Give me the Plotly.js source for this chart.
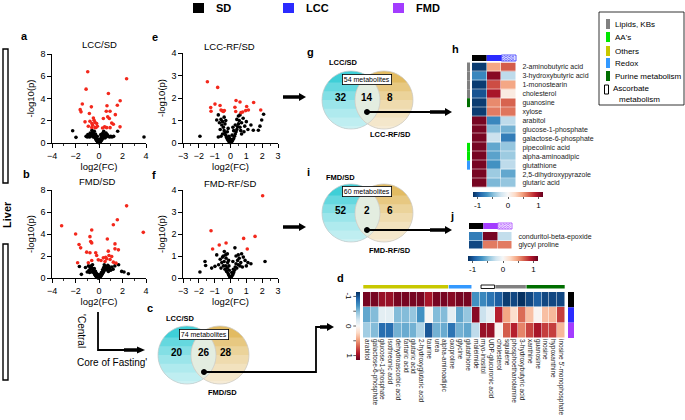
<!DOCTYPE html>
<html><head><meta charset="utf-8">
<script src="https://cdn.plot.ly/plotly-3.0.1.min.js"></script>
<style>html,body{margin:0;padding:0;background:#fff}#chart{width:685px;height:420px}</style>
</head><body><div id="chart"></div>
<script>
// ================= DATA =================
const groups = ['SD', 'LCC', 'FMD'];

// Volcano a: LCC/SD  [log2(FC), -log10(p)]
const lccSdSig = [[-0.96,6.4],[2.35,5.77],[-1.1,4.84],[0.8,4.45],[1.8,3.8],[-1.42,3.5],[1.56,3.4],[-0.65,3.25],[0.68,3.35],[-1.6,3.0],[-1.53,2.8],[0.62,2.85],[0.94,2.85],[-0.82,2.65],[1.39,2.55],[0.74,2.35],[0.88,2.2],[-0.48,2.25],[0.37,2.2],[-1.19,1.9],[-0.77,1.95],[-0.34,1.85],[-0.2,1.75],[1.08,1.8],[1.22,1.68],[-0.54,1.6],[-0.14,1.5],[0.48,1.45],[0.65,1.38],[1.79,1.45],[-0.91,1.5],[-0.62,1.4],[-0.34,1.38],[0.94,1.38],[-0.42,2.05],[-0.6,1.75],[0.3,1.35],[-0.25,1.4]];
const lccSdNs = [[-2.24,1.1],[-1.96,0.51],[1.59,1.05],[3.83,0.54],[-1.1,0.6],[-1.0,0.55],[-0.95,0.75],[-0.9,0.6],[-0.85,0.65],[-0.8,0.55],[-0.75,0.9],[-0.7,0.65],[-0.65,0.8],[-0.6,0.7],[-0.55,1.0],[-0.5,0.95],[-0.45,0.75],[-0.4,0.6],[-0.35,0.5],[-0.3,0.4],[-0.25,0.3],[-0.2,0.22],[-0.15,0.15],[-0.1,0.08],[-0.05,0.04],[0,0.02],[0.05,0.05],[0.1,0.1],[0.15,0.16],[0.2,0.24],[0.25,0.32],[0.3,0.42],[0.35,0.5],[0.4,0.62],[0.45,0.7],[0.5,0.8],[0.55,0.6],[0.6,0.9],[0.7,0.75],[0.8,0.6],[0.9,0.55],[1.0,0.6],[1.1,0.55],[1.25,0.6],[-0.6,1.15],[-0.5,0.55],[-0.4,1.05],[-0.3,0.8],[-0.2,0.5],[-0.1,0.3],[0.1,0.35],[0.2,0.55],[0.3,0.85],[0.4,1.05],[0.5,0.45],[0.6,0.55],[-0.75,0.6],[0.75,0.65],[0.0,0.2],[-0.05,0.12],[0.05,0.28],[-0.15,0.6],[0.15,0.75],[0.25,0.6],[-0.25,0.5]];

// Volcano e: LCC-RF/SD
const lccRfSig = [[-1.46,2.72],[-0.81,2.47],[-0.98,1.73],[-1.25,1.58],[-1.23,1.41],[-0.66,1.67],[-0.6,1.47],[-0.52,1.43],[-0.39,1.44],[-0.45,1.4],[0.35,1.89],[0.6,1.82],[0.28,1.59],[0.33,1.4],[0.66,1.35],[0.77,1.38],[1.02,1.62],[1.13,1.47],[0.96,1.44],[1.46,1.8],[1.91,1.47]];
const lccRfNs = [[-1.93,0.3],[1.76,0.57],[1.86,0.75],[1.97,1.02],[2.09,1.28],[1.44,0.57],[1.29,0.8],[-0.77,1.25],[-0.87,1.02],[-0.77,0.27],[-0.7,0.9],[-0.65,0.6],[-0.6,1.05],[-0.55,0.8],[-0.5,0.95],[-0.45,0.7],[-0.4,0.55],[-0.35,0.45],[-0.3,0.35],[-0.25,0.25],[-0.2,0.18],[-0.15,0.12],[-0.1,0.07],[-0.05,0.03],[0,0.01],[0.05,0.04],[0.1,0.08],[0.15,0.14],[0.2,0.2],[0.25,0.3],[0.3,0.4],[0.35,0.5],[0.4,0.6],[0.45,0.72],[0.5,0.85],[0.55,1.0],[0.6,0.7],[0.7,0.9],[0.8,1.1],[0.9,0.75],[1.0,0.95],[1.1,0.6],[0.85,0.5],[-0.35,0.85],[-0.3,1.0],[-0.2,0.5],[-0.1,0.3],[0.1,0.35],[0.2,0.55],[0.3,0.8],[0.4,1.05],[0.5,1.2],[0.6,1.25],[-0.5,0.4],[-0.6,0.3],[0.7,0.4],[-0.15,0.65],[0.15,0.7],[-0.05,0.2],[0.05,0.15],[0.65,0.55],[-0.4,1.15]];

// Volcano b: FMD/SD
const fmdSdSig = [[-3.18,4.75],[2.35,6.56],[3.77,4.15],[1.56,5.29],[1.22,4.84],[-1.99,4.0],[-0.62,4.36],[-0.77,3.76],[-0.71,3.31],[-0.62,3.19],[-1.7,3.04],[-1.56,2.74],[0.71,3.55],[1.36,3.1],[1.36,2.65],[1.65,2.56],[-1.05,2.35],[-0.77,2.29],[-0.28,2.29],[-0.2,2.05],[-1.82,1.38],[0.79,2.44],[0.85,2.05],[0.57,1.89],[1.08,1.95],[0.37,1.83],[0.65,1.74],[0.94,1.68],[-0.06,1.65],[0.51,1.5],[1.22,1.44],[1.45,1.35],[0.17,1.59],[-0.62,1.59],[-0.91,1.38]];
const fmdSdNs = [[-1.67,1.05],[-1.5,0.33],[1.93,0.6],[2.13,0.54],[2.5,0.39],[1.67,1.2],[-1.15,0.95],[-1.0,0.55],[-0.9,1.1],[-0.85,0.7],[-0.8,0.5],[-0.75,0.95],[-0.7,0.8],[-0.65,1.1],[-0.6,0.55],[-0.55,0.85],[-0.5,0.65],[-0.45,0.5],[-0.4,0.4],[-0.35,0.3],[-0.3,0.22],[-0.25,0.15],[-0.2,0.1],[-0.15,0.06],[-0.1,0.03],[-0.05,0.01],[0,0.02],[0.05,0.05],[0.1,0.1],[0.15,0.16],[0.2,0.24],[0.25,0.33],[0.3,0.42],[0.35,0.5],[0.4,0.6],[0.45,0.7],[0.5,0.8],[0.55,0.95],[0.6,1.05],[0.65,0.75],[0.7,0.9],[0.75,1.15],[0.8,0.6],[0.9,0.85],[1.0,0.7],[1.1,1.0],[1.2,0.8],[1.35,1.1],[-0.3,0.6],[-0.2,0.4],[-0.1,0.25],[0.1,0.3],[0.2,0.5],[0.3,0.75],[0.4,0.95],[0.45,1.2],[-0.4,0.85],[-0.55,1.2],[0.85,1.05],[0.0,0.15],[-0.05,0.3],[0.05,0.25]];

// Volcano f: FMD-RF/SD
const fmdRfSig = [[2.03,3.74],[-1.23,2.15],[1.55,1.89],[0.83,1.8],[-0.28,1.59],[-0.71,1.5],[-1.13,1.32],[1.06,1.32]];
const fmdRfNs = [[-1.93,0.27],[-1.61,0.75],[-1.57,0.57],[-1.19,0.45],[-0.98,0.53],[-0.87,1.05],[-0.39,1.2],[0.28,1.37],[0.49,1.05],[0.81,0.95],[0.92,0.8],[1.29,0.65],[2.18,0.75],[-0.75,0.6],[-0.65,0.85],[-0.6,0.45],[-0.55,0.7],[-0.5,0.95],[-0.45,0.55],[-0.4,0.75],[-0.35,0.4],[-0.3,0.55],[-0.28,0.9],[-0.25,0.3],[-0.2,0.45],[-0.18,0.7],[-0.15,0.2],[-0.1,0.12],[-0.08,0.35],[-0.05,0.06],[0,0.02],[0.05,0.05],[0.08,0.25],[0.1,0.1],[0.15,0.16],[0.18,0.4],[0.2,0.25],[0.25,0.35],[0.3,0.5],[0.35,0.65],[0.4,0.45],[0.45,0.8],[0.5,0.6],[0.55,0.9],[0.6,0.55],[0.65,0.7],[0.7,1.1],[0.75,0.5],[1.0,0.55],[1.1,0.7],[-0.3,1.05],[-0.45,1.0],[-0.2,1.1],[0.35,1.0],[0.15,0.75],[-0.1,0.55],[-0.12,0.8]];

// Venn counts
const vennC = {left:'LCC/SD', right:'FMD/SD', total:74, counts:[20,26,28]};
const vennG = {left:'LCC/SD', right:'LCC-RF/SD', total:54, counts:[32,14,8]};
const vennI = {left:'FMD/SD', right:'FMD-RF/SD', total:60, counts:[52,2,6]};

// Heatmap h (rows) : SD, LCC, LCC-RF
const hRows = ['2-aminobutyric acid','3-hydroxybutyric acid','1-monostearin','cholesterol','guanosine','xylose','arabitol','glucose-1-phosphate','galactose-6-phosphate','pipecolinic acid','alpha-aminoadipic','glutathione','2,5-dihydroxypyrazole','glutaric acid'];
const hSD  = [-1.1,-0.75,-1.1,-1.0,-1.1,-1.1,1.1,1.1,1.1,1.1,1.1,1.1,1.1,1.1];
const hLCC = [0.45,1.05,0.75,0.95,0.55,0.6,-0.75,-0.5,-0.25,-0.6,-0.62,-0.7,-0.42,-0.52];
const hLCCRF = [0.7,-0.3,0.45,0.1,0.68,0.62,-0.3,-0.55,-0.8,-0.45,-0.42,-0.3,-0.6,-0.45];
const hCategory = ['Lipids','Lipids','Lipids','Lipids','Purine','','','','','AA','AA','Redox','',''];

// Heatmap j : SD, FMD, FMD-RF
const jRows = ['conduritol-beta-epoxide','glycyl proline'];
const jSD = [-0.8,-1.05];
const jFMD = [1.1,0.6];
const jFMDRF = [-0.28,0.6];

// Heatmap d (columns): SD, LCC, FMD
const dCols = ['arabitol','galactose-6-phosphate','glucose-1-phosphate','isothreonic acid','dehydroascorbic acid','tartaric acid','glutaric acid','2-hydroxyglutaric acid','taurine','urea','alpha-aminoadipic','oxoproline','glycine','glutathione','maleimide','myo-inositol','UDP-glucuronic acid','cholesterol','squalene','phosphoethanolamine','3-hydroxybutyric acid','xanthine','guanosine','inosine','hypoxanthine',"inosine 5'-monophosphate"];
const dSD  = [1.1,1.1,1.0,1.0,1.1,1.1,1.1,1.1,0.95,1.1,1.1,1.05,1.1,1.1,-0.7,-0.75,-0.85,-0.95,-1.1,-1.05,-1.15,-1.05,-0.95,-1.05,-1.05,-1.05];
const dLCC = [-0.6,-0.5,-0.12,-0.12,-0.5,-0.5,-0.45,-0.7,0.02,-0.5,-0.5,-0.12,-0.6,-0.45,1.05,-0.25,-0.1,0.9,0.45,0.2,0.65,0.35,0.03,0.35,0.38,0.8];
const dFMD = [-0.4,-0.5,-0.88,-0.88,-0.55,-0.58,-0.55,-0.35,-0.98,-0.55,-0.58,-0.85,-0.55,-0.6,-0.3,1.0,1.0,0.03,0.7,0.9,0.57,0.78,0.95,0.8,0.8,0.38];
const dCategory = ['Others','Others','Others','Others','Others','Others','Others','Others','Others','Others','Others','Redox','Redox','Redox','','Ascorbate','Ascorbate','Lipids','Lipids','Lipids','Lipids','Purine','Purine','Purine','Purine','Purine'];

// Category legend
const catNames = ['Lipids, KBs',"AA's",'Others','Redox','Purine metabolism','Ascorbate metabolism'];

// ================= STYLE / LAYOUT =================
const W = 685, H = 420;
const FONT = 'Liberation Sans, Arial, Helvetica, sans-serif';
const X = p => p / W, Y = p => 1 - p / H;
const RED = '#f3281c';
const groupColor = {SD:'#000000', LCC:'#2b2bff', FMD:'#a33cff'};
const catColor = {Lipids:'#808080', AA:'#00e600', Others:'#c8c800', Redox:'#3399ff', Purine:'#006e00'};
const rdbu = ['#053061','#2166ac','#4393c3','#92c5de','#d1e5f0','#f7f7f7','#fddbc7','#f4a582','#d6604d','#b2182b','#67001f'];
const cs = rdbu.map((c,i)=>[i/10,c]);
const csRev = rdbu.slice().reverse().map((c,i)=>[i/10,c]);
const ZM = 1.15;

const shapes = [], ann = [];
function T(text, x, y, o = {}) {
  ann.push(Object.assign({text, x:X(x), y:Y(y), xref:'paper', yref:'paper', showarrow:false,
    font:{family:FONT, size:o.size||9, color:o.color||'#000'},
    xanchor:o.xa||'center', yanchor:o.ya||'middle'}, o.extra||{}));
}
function rect(x0,y0,x1,y1,fill,lc,lw){ shapes.push({type:'rect',xref:'paper',yref:'paper',x0:X(x0),x1:X(x1),y0:Y(y1),y1:Y(y0),fillcolor:fill||'rgba(0,0,0,0)',line:{color:lc||'rgba(0,0,0,0)',width:lw||0}}); }
function line(x0,y0,x1,y1,w,c){ shapes.push({type:'line',xref:'paper',yref:'paper',x0:X(x0),y0:Y(y0),x1:X(x1),y1:Y(y1),line:{color:c||'#000',width:w}}); }
function pathStr(pts, close){ return 'M' + pts.map(p=>X(p[0]).toFixed(5)+','+Y(p[1]).toFixed(5)).join('L') + (close?'Z':''); }
function poly(pts, fill, op, lc, lw){ shapes.push({type:'path',xref:'paper',yref:'paper',path:pathStr(pts,true),fillcolor:fill,opacity:op==null?1:op,line:{color:lc||'rgba(0,0,0,0)',width:lw||0}}); }
function polyline(pts, c, w){ shapes.push({type:'path',xref:'paper',yref:'paper',path:pathStr(pts,false),line:{color:c,width:w}}); }
function arc(cx,cy,r,t0,t1,n){ const p=[]; for(let i=0;i<=n;i++){const t=t0+(t1-t0)*i/n; p.push([cx+r*Math.cos(t), cy+r*Math.sin(t)]);} return p; }
function headR(xTip,y,len,hw){ poly([[xTip-len,y-hw/2],[xTip,y],[xTip-len,y+hw/2]],'#000'); }
function dot(cx,cy,r){ poly(arc(cx,cy,r,0,2*Math.PI,16),'#000'); }

// ---- Venn diagrams ----
function gradientCircle(cx,cy,r,base){
  poly(arc(cx,cy,r,0,2*Math.PI,64), base);
  for (let k=0;k<6;k++){
    const s = -0.6 + k*0.3;
    const t0 = Math.asin(Math.max(-1,Math.min(1,s)));
    poly(arc(cx,cy,r,t0,Math.PI-t0,40),'#ffffff',0.2);
  }
}
function venn(v, cx1, cx2, cy, r, lab, labPos){
  gradientCircle(cx1,cy,r,'#3fcfd7');
  gradientCircle(cx2,cy,r,'#e2bb62');
  const a = (cx2-cx1)/2, phi = Math.acos(a/r);
  const lens = arc(cx1,cy,r,-phi,phi,30).concat(arc(cx2,cy,r,Math.PI-phi,Math.PI+phi,30));
  poly(lens,'#e3ede0');
  poly(arc(cx1,cy,r,0,2*Math.PI,64),'rgba(0,0,0,0)',1,'#c9c9c9',0.7);
  poly(arc(cx2,cy,r,0,2*Math.PI,64),'rgba(0,0,0,0)',1,'#c9c9c9',0.7);
  const mx=(cx1+cx2)/2;
  const ny = cy - 3;
  T('<b>'+v.counts[0]+'</b>', cx1-10, ny, {size:10});
  T('<b>'+v.counts[1]+'</b>', mx, ny, {size:10});
  T('<b>'+v.counts[2]+'</b>', cx2+6, ny, {size:10});
  T(v.total+' metabolites', mx, cy-r+8, {size:7, extra:{bgcolor:'#fff', bordercolor:'#000', borderwidth:0.8, borderpad:1}});
  T('<b>'+v.left+'</b>', labPos[0][0], labPos[0][1], {size:7.5});
  T('<b>'+v.right+'</b>', labPos[1][0], labPos[1][1], {size:7.5});
}
venn(vennG, 351, 384, 100, 29, 'g', [[343,62],[390,134]]);
venn(vennI, 351, 384, 213, 29, 'i', [[340,177],[390,250]]);
venn(vennC, 187, 220, 355, 29, 'c', [[180,318],[222,392]]);

// ---- arrows ----
function boldArrow(x0,x1,y){ line(x0,y,x1-6,y,3.5); headR(x1,y,7,8); }
boldArrow(283,306,97);
boldArrow(283,306,227);
function dotArrow(x0,x1,y){ dot(x0,y,3); line(x0,y,x1-20,y,1.8); line(x1-22,y,x1-6,y,3.5); headR(x1,y,7,8); }
dotArrow(367,452,112);
dotArrow(367,452,230);
// c -> d
dot(204,372,3);
polyline([[204,372],[316,372],[316,327],[322,327]],'#000',1.8);
line(320,327,327,327,3.5); headR(334,327,7,8);
// Central core L-arrow
polyline([[98,312],[98,350],[126,350]],'#000',1.8);
line(124,350,137,350,3.5); headR(145,350,8,7);

// ---- Liver bracket ----
rect(3,49,8,183,null,'#000',1.4);
rect(3,244,8,380,null,'#000',1.4);
T('<b>Liver</b>', 7, 215, {size:11, extra:{textangle:-90}});
T("'Central", 82, 331, {size:10, extra:{textangle:90}});
T("Core of Fasting'", 112, 362, {size:10});

// ---- top group legend ----
const topLeg = [[193,'SD'],[283,'LCC'],[393,'FMD']];
topLeg.forEach(([x,g])=>{ rect(x,3,x+11,13,groupColor[g]); T('<b>'+g+'</b>', x+21, 8, {size:11, xa:'left'}); });

// ---- category legend box ----
rect(599,12,684,105,'#fff','#000',0.8);
const legKeys = ['Lipids','AA','Others','Redox','Purine'];
const legY = [24,37,51,63,76];
legKeys.forEach((k,i)=>{ rect(606,legY[i]-5,610,legY[i]+5,catColor[k]); T(catNames[i],613,legY[i],{size:8,xa:'left'}); });
rect(604.5,85,608.5,94,'#fff','#000',1);
T(catNames[5].split(' ')[0],611,88,{size:8,xa:'left'});
T(catNames[5].split(' ')[1],617,99,{size:8,xa:'left'});

// ---- panel letters ----
[['a',25,36],['e',155,37],['b',26,174],['f',154,175],['c',150,308],['g',310,52],['i',308,172],['h',455,49],['j',452,216],['d',340,278]]
  .forEach(([t,x,y])=>T('<b>'+t+'</b>',x,y,{size:11}));

// ---- volcano titles ----
T('LCC/SD',99,45,{size:9.5}); T('LCC-RF/SD',230,46,{size:9.5});
T('FMD/SD',98,181,{size:9.5}); T('FMD-RF/SD',230,183,{size:9.5});

// ---- heatmap headers and category bars ----
function hatched(x0,y0,x1,y1,c){
  rect(x0,y0,x1,y1,'#fff',c,0.8);
  for (let yy=y0+1.5; yy<y1; yy+=1.7){
    const pts=[]; for(let x=x0+0.5,k=0;x<=x1-0.4;x+=1.4,k++) pts.push([x, yy+(k%2?0.6:-0.6)]);
    polyline(pts,c,0.7);
  }
}
function header(x0,x1,y0,y1,gA,gB){
  const w=(x1-x0)/3;
  rect(x0,y0,x0+w,y1,groupColor[gA]);
  rect(x0+w,y0,x1,y1,groupColor[gB]);
  hatched(x0+2*w,y0,x1,y1,groupColor[gB]);
}
const HX0=472,HX1=516,HY0=62.5,HY1=187.5;
header(HX0,HX1,55,61,'SD','LCC');
const rowH=(HY1-HY0)/hRows.length;
hCategory.forEach((c,i)=>{ if(c) rect(467,HY0+i*rowH,470,HY0+(i+1)*rowH,catColor[c]); });
const JX0=469,JX1=512,JY0=232,JY1=249;
header(JX0,JX1,223,229,'SD','FMD');
const DX0=363,DX1=565,DY0=292,DY1=338;
const colW=(DX1-DX0)/dCols.length;
// runs of categories
let s=0;
for(let i=1;i<=dCategory.length;i++){
  if(i===dCategory.length || dCategory[i]!==dCategory[s]){
    const c=dCategory[s];
    if(c==='Ascorbate') rect(DX0+s*colW+1.5,285,DX0+i*colW-0.5,288.5,'#fff','#000',0.9);
    else if(c) rect(DX0+s*colW+0.3,285,DX0+i*colW-0.3,288.5,catColor[c]);
    s=i;
  }
}
// group strip right of d
const dRowH=(DY1-DY0)/3;
groups.forEach((g,i)=>rect(568,DY0+i*dRowH,574,DY0+(i+1)*dRowH,groupColor[g]));
// d colourbar labels (bar is flipped: -1 at top)
const dcbC=326, dcbHalf=34;
[-1,-0.5,0,0.5,1].forEach(v=>{
  const y=dcbC + v*dcbHalf/ZM;
  line(353.3,y,356,y,0.8,'#333');
  if(v%1===0) T(String(v),349,y,{size:8,extra:{textangle:90}});
});

// ================= TRACES =================
function volc(ns, sig, xa, ya){
  return [
    {type:'scatter',mode:'markers',x:ns.map(p=>p[0]),y:ns.map(p=>p[1]),xaxis:xa,yaxis:ya,marker:{color:'#000',size:3.6},cliponaxis:false,hoverinfo:'skip'},
    {type:'scatter',mode:'markers',x:sig.map(p=>p[0]),y:sig.map(p=>p[1]),xaxis:xa,yaxis:ya,marker:{color:RED,size:3.6},cliponaxis:false,hoverinfo:'skip'}
  ];
}
const cbH = (cx, ytop) => ({orientation:'h', x:X(cx), xanchor:'center', xref:'paper', y:Y(ytop), yanchor:'top', yref:'paper',
  len:70, lenmode:'pixels', thickness:4.5, thicknessmode:'pixels', xpad:0, ypad:0, outlinewidth:0,
  tickvals:[-1,-0.5,0,0.5,1], ticktext:['-1','','0','','1'], ticks:'outside', ticklen:2, tickwidth:0.8, tickcolor:'#333',
  tickfont:{size:8, family:FONT, color:'#000'}});

const traces = [
  ...volc(lccSdNs, lccSdSig, 'x', 'y'),
  ...volc(lccRfNs, lccRfSig, 'x2', 'y2'),
  ...volc(fmdSdNs, fmdSdSig, 'x3', 'y3'),
  ...volc(fmdRfNs, fmdRfSig, 'x4', 'y4'),
  {type:'heatmap', z:hRows.map((r,i)=>[hSD[i],hLCC[i],hLCCRF[i]]), x:['SD','LCC','LCC-RF'], y:hRows,
   xaxis:'x5', yaxis:'y5', colorscale:cs, zmin:-ZM, zmax:ZM, xgap:0.5, ygap:0.5, hoverinfo:'skip',
   showscale:true, colorbar:cbH(508,192)},
  {type:'heatmap', z:jRows.map((r,i)=>[jSD[i],jFMD[i],jFMDRF[i]]), x:['SD','FMD','FMD-RF'], y:jRows,
   xaxis:'x6', yaxis:'y6', colorscale:cs, zmin:-ZM, zmax:ZM, xgap:0.5, ygap:0.5, hoverinfo:'skip',
   showscale:true, colorbar:cbH(503,256)},
  // d: colourbar shown flipped (blue/-1 on top) -> plot negated values with reversed scale
  {type:'heatmap', z:[dSD,dLCC,dFMD].map(r=>r.map(v=>-v)), x:dCols, y:groups,
   xaxis:'x7', yaxis:'y7', colorscale:csRev, zmin:-ZM, zmax:ZM, xgap:0.5, ygap:0.5, hoverinfo:'skip',
   showscale:true, colorbar:{x:X(356), xanchor:'left', xref:'paper', y:Y(dcbC), yanchor:'middle', yref:'paper',
     len:68, lenmode:'pixels', thickness:3.5, thicknessmode:'pixels', xpad:0, ypad:0, outlinewidth:0,
     showticklabels:false, ticks:''}}
];

// ================= AXES =================
function vAx(dom, range, dtick, minor, title, anchor, isY){
  const a = {domain: isY ? [Y(dom[1]),Y(dom[0])] : [X(dom[0]),X(dom[1])], range, dtick, tick0:0, anchor,
    showline:true, linecolor:'#000', linewidth:1.2, ticks:'outside', ticklen:3.5, tickwidth:1, tickcolor:'#000',
    showgrid:false, zeroline:false, tickfont:{size:9, family:FONT, color:'#000'}, fixedrange:true,
    title:{text:title, font:{size:9.5, family:FONT, color:'#000'}, standoff: isY?4:3}};
  if (minor) a.minor = {ticks:'outside', ticklen:2, dtick:minor, tickcolor:'#000', tickwidth:0.8, showgrid:false};
  return a;
}
const hmX = (dom, anchor) => ({domain:[X(dom[0]),X(dom[1])], anchor, showticklabels:false, ticks:'', showline:false, showgrid:false, zeroline:false, fixedrange:true});
const hmY = (dom, anchor) => ({domain:[Y(dom[1]),Y(dom[0])], anchor, side:'right', autorange:'reversed', showline:false, showgrid:false, zeroline:false,
  ticks:'outside', ticklen:4, tickcolor:'rgba(0,0,0,0)', tickfont:{size:7, family:FONT, color:'#222'}, fixedrange:true});

const layout = {
  width:W, height:H, margin:{l:0,r:0,t:0,b:0,pad:0}, paper_bgcolor:'#fff', plot_bgcolor:'rgba(0,0,0,0)',
  showlegend:false, hovermode:false, font:{family:FONT, color:'#000'},
  xaxis:  vAx([52,146],[-4,4],2,1,'log2(FC)','y',false),
  yaxis:  vAx([54,143],[0,8],2,null,'-log10(p)','x',true),
  xaxis2: vAx([183,278],[-3,3],1,0.5,'log2(FC)','y2',false),
  yaxis2: vAx([53,143],[0,4],1,null,'-log10(p)','x2',true),
  xaxis3: vAx([52,146],[-4,4],2,1,'log2(FC)','y3',false),
  yaxis3: vAx([190,278],[0,8],2,null,'-log10(p)','x3',true),
  xaxis4: vAx([183,278],[-3,3],1,0.5,'log2(FC)','y4',false),
  yaxis4: vAx([190,278],[0,4],1,null,'-log10(p)','x4',true),
  xaxis5: hmX([HX0,HX1],'y5'), yaxis5: hmY([HY0,HY1],'x5'),
  xaxis6: hmX([JX0,JX1],'y6'), yaxis6: hmY([JY0,JY1],'x6'),
  xaxis7: {domain:[X(DX0),X(DX1)], anchor:'y7', tickangle:90, tickmode:'array', tickvals:dCols, ticktext:dCols,
    ticks:'', tickfont:{size:6.5, family:FONT, color:'#222'}, showline:false, showgrid:false, zeroline:false, fixedrange:true},
  yaxis7: {domain:[Y(DY1),Y(DY0)], anchor:'x7', autorange:'reversed', showticklabels:false, ticks:'', showline:false, showgrid:false, zeroline:false, fixedrange:true},
  shapes, annotations:ann
};

Plotly.newPlot('chart', traces, layout, {staticPlot:true, displayModeBar:false});
</script></body></html>
